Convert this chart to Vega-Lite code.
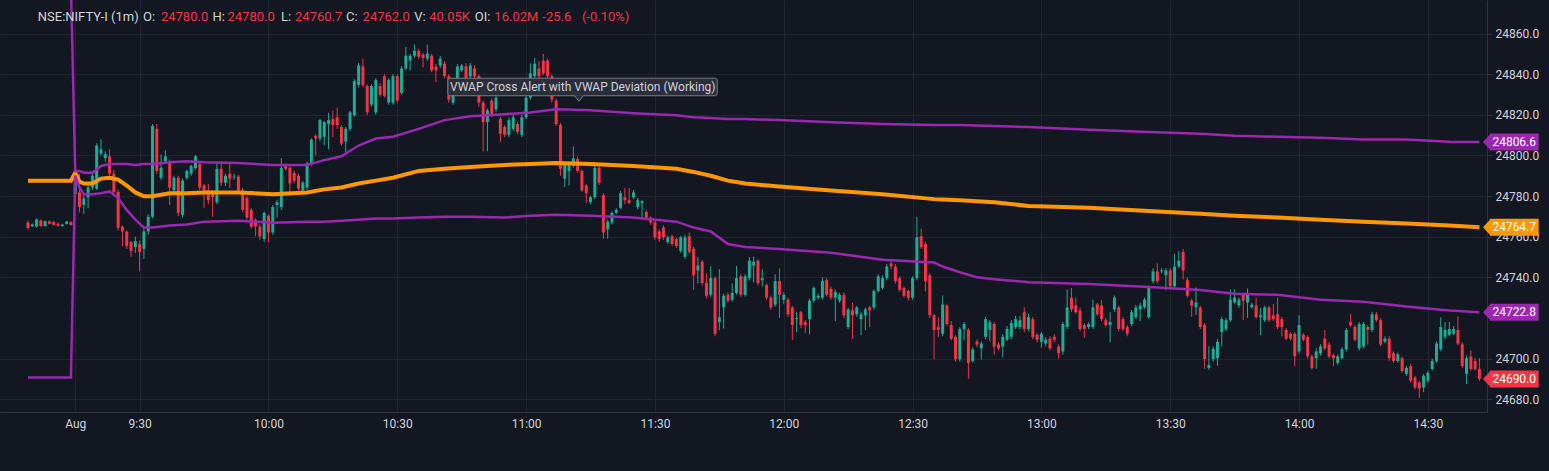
{
"$schema":"https://vega.github.io/schema/vega-lite/v6.json",
"width":1487,"height":412,
"autosize":{"type":"none"},
"padding":{"left":0,"top":0,"right":62,"bottom":59},
"background":"#131722",
"config":{"view":{"stroke":null},"font":"Roboto","text":{"font":"Roboto"},
"axis":{"labelFont":"Roboto","labelFontSize":12,"labelColor":"#d1d4dc","gridColor":"#1f2430","domainColor":"#2e323d","tickColor":"#2e323d","title":null}},
"resolve":{"scale":{"color":"independent"}},
"datasets":{
"cd":[
{"m":-11,"o":24767.0,"h":24768,"l":24763.5,"c":24764.3},
{"m":-10,"o":24765.2,"h":24766.5,"l":24764.8,"c":24766.0},
{"m":-9,"o":24765.0,"h":24769,"l":24764.5,"c":24768.5},
{"m":-8,"o":24768.0,"h":24768.5,"l":24765,"c":24765.2},
{"m":-7,"o":24765.2,"h":24768,"l":24765,"c":24767.6},
{"m":-6,"o":24767.5,"h":24768,"l":24766,"c":24766.4},
{"m":-5,"o":24767.3,"h":24767.6,"l":24765.5,"c":24765.8},
{"m":-4,"o":24766.3,"h":24767,"l":24764.8,"c":24765.5},
{"m":-3,"o":24765.2,"h":24766.4,"l":24765,"c":24766.0},
{"m":-2,"o":24766.3,"h":24767.8,"l":24766,"c":24767.5},
{"m":-1,"o":24767.2,"h":24767.6,"l":24765.5,"c":24765.8},
{"m":0,"o":24781,"h":24793,"l":24779,"c":24790},
{"m":1,"o":24781.8,"h":24791,"l":24772,"c":24774.6},
{"m":2,"o":24775.6,"h":24780,"l":24771.3,"c":24778.9},
{"m":3,"o":24779.4,"h":24785.5,"l":24774,"c":24784.2},
{"m":4,"o":24784.2,"h":24791,"l":24783,"c":24790},
{"m":5,"o":24783.7,"h":24806,"l":24783,"c":24804.9},
{"m":6,"o":24801,"h":24808,"l":24800,"c":24803},
{"m":7,"o":24798.7,"h":24802,"l":24797,"c":24800.6},
{"m":8,"o":24799.6,"h":24803,"l":24790,"c":24791},
{"m":9,"o":24791,"h":24793,"l":24781.5,"c":24782},
{"m":10,"o":24782,"h":24783,"l":24763,"c":24764.5},
{"m":11,"o":24765,"h":24765.5,"l":24755.4,"c":24762.6},
{"m":12,"o":24762.6,"h":24763,"l":24754,"c":24755.4},
{"m":13,"o":24757.3,"h":24758,"l":24750.1,"c":24753},
{"m":14,"o":24754.9,"h":24760,"l":24752,"c":24757.8},
{"m":15,"o":24756.4,"h":24758,"l":24742.9,"c":24752.5},
{"m":16,"o":24754,"h":24764,"l":24749,"c":24762.6},
{"m":17,"o":24762.6,"h":24771,"l":24761,"c":24769.8},
{"m":18,"o":24769.8,"h":24815.5,"l":24769,"c":24814.5},
{"m":19,"o":24813.1,"h":24815.5,"l":24791,"c":24792.4},
{"m":20,"o":24789,"h":24800.5,"l":24788,"c":24793.9},
{"m":21,"o":24797.2,"h":24802.5,"l":24796,"c":24799.6},
{"m":22,"o":24796.2,"h":24798,"l":24775.6,"c":24784.2},
{"m":23,"o":24782.8,"h":24790,"l":24781,"c":24789},
{"m":24,"o":24789,"h":24790,"l":24770,"c":24771.7},
{"m":25,"o":24770.8,"h":24788.5,"l":24769.5,"c":24787.6},
{"m":26,"o":24789,"h":24793,"l":24788,"c":24792.4},
{"m":27,"o":24791,"h":24795.5,"l":24790,"c":24794.8},
{"m":28,"o":24793.8,"h":24800.1,"l":24793,"c":24799.6},
{"m":29,"o":24795.8,"h":24797,"l":24783,"c":24784.2},
{"m":30,"o":24785.2,"h":24786,"l":24774.2,"c":24782.8},
{"m":31,"o":24782.8,"h":24786,"l":24776,"c":24778},
{"m":32,"o":24781.8,"h":24783,"l":24769.8,"c":24779.4},
{"m":33,"o":24777,"h":24796.7,"l":24776,"c":24793.4},
{"m":34,"o":24793.4,"h":24797.2,"l":24785,"c":24786.6},
{"m":35,"o":24786.6,"h":24791,"l":24785,"c":24790},
{"m":36,"o":24791,"h":24796,"l":24784,"c":24788.6},
{"m":37,"o":24789.2,"h":24791,"l":24788,"c":24789.6},
{"m":38,"o":24789.6,"h":24790.5,"l":24782,"c":24782.8},
{"m":39,"o":24782.8,"h":24784,"l":24772,"c":24773.2},
{"m":40,"o":24779,"h":24780,"l":24768.5,"c":24769.4},
{"m":41,"o":24773.2,"h":24774,"l":24764,"c":24765},
{"m":42,"o":24768.4,"h":24769,"l":24760.2,"c":24765},
{"m":43,"o":24765,"h":24766,"l":24758.5,"c":24760.2},
{"m":44,"o":24758.8,"h":24772.5,"l":24757.5,"c":24771.7},
{"m":45,"o":24770.3,"h":24771,"l":24757.3,"c":24762.1},
{"m":46,"o":24762.1,"h":24775.5,"l":24761,"c":24774.6},
{"m":47,"o":24775.6,"h":24778,"l":24769.5,"c":24777},
{"m":48,"o":24774.6,"h":24798.6,"l":24773,"c":24793.9},
{"m":49,"o":24794.8,"h":24796,"l":24792.5,"c":24793.4},
{"m":50,"o":24793.9,"h":24795,"l":24780.9,"c":24786.2},
{"m":51,"o":24791.4,"h":24792.5,"l":24786.5,"c":24787.6},
{"m":52,"o":24790,"h":24791,"l":24782.5,"c":24783.7},
{"m":53,"o":24782.8,"h":24787.5,"l":24781.5,"c":24786.6},
{"m":54,"o":24784.2,"h":24797,"l":24783,"c":24796.2},
{"m":55,"o":24796.2,"h":24808.5,"l":24795,"c":24807.8},
{"m":56,"o":24809.7,"h":24810.5,"l":24800,"c":24808.3},
{"m":57,"o":24808.3,"h":24818,"l":24807,"c":24817.4},
{"m":58,"o":24809.2,"h":24817,"l":24805,"c":24816.4},
{"m":59,"o":24815.5,"h":24821,"l":24803,"c":24817.4},
{"m":60,"o":24817.9,"h":24822,"l":24809,"c":24815},
{"m":61,"o":24818.8,"h":24823.5,"l":24813,"c":24815},
{"m":62,"o":24814,"h":24815,"l":24805,"c":24805.9},
{"m":63,"o":24806.8,"h":24814,"l":24800.6,"c":24813.1},
{"m":64,"o":24813.1,"h":24822,"l":24812,"c":24821.2},
{"m":65,"o":24819.8,"h":24837.5,"l":24819,"c":24836.6},
{"m":66,"o":24834.7,"h":24845.5,"l":24833.5,"c":24844.3},
{"m":67,"o":24843.8,"h":24847.7,"l":24833.5,"c":24834.7},
{"m":68,"o":24834.2,"h":24835,"l":24819.8,"c":24821.2},
{"m":69,"o":24825.1,"h":24835,"l":24824,"c":24834.2},
{"m":70,"o":24821.2,"h":24838,"l":24820,"c":24837.1},
{"m":71,"o":24834.2,"h":24835.5,"l":24829,"c":24829.9},
{"m":72,"o":24839,"h":24840,"l":24828.5,"c":24829.4},
{"m":73,"o":24826,"h":24838,"l":24825,"c":24837.1},
{"m":74,"o":24826,"h":24840,"l":24825,"c":24839},
{"m":75,"o":24839,"h":24840,"l":24826,"c":24827},
{"m":76,"o":24830.8,"h":24844,"l":24830,"c":24842.8},
{"m":77,"o":24842.8,"h":24853.4,"l":24842,"c":24849.1},
{"m":78,"o":24846.7,"h":24850,"l":24841.8,"c":24849.1},
{"m":79,"o":24849.1,"h":24854.6,"l":24848,"c":24851.5},
{"m":80,"o":24851.5,"h":24852.5,"l":24847.5,"c":24848.6},
{"m":81,"o":24849.6,"h":24850.5,"l":24843.3,"c":24848.1},
{"m":82,"o":24847.7,"h":24854.6,"l":24846.5,"c":24850.1},
{"m":83,"o":24849.1,"h":24850,"l":24841,"c":24841.9},
{"m":84,"o":24843.8,"h":24845,"l":24836.1,"c":24841.9},
{"m":85,"o":24844.3,"h":24849,"l":24843,"c":24847.7},
{"m":86,"o":24845.2,"h":24846.5,"l":24838,"c":24839},
{"m":87,"o":24839,"h":24840,"l":24826,"c":24827.5},
{"m":88,"o":24826,"h":24838,"l":24825,"c":24836.6},
{"m":89,"o":24836.6,"h":24845,"l":24835.5,"c":24843.8},
{"m":90,"o":24841.9,"h":24845,"l":24841,"c":24844.3},
{"m":91,"o":24843.8,"h":24845.5,"l":24836,"c":24837.1},
{"m":92,"o":24839,"h":24845.5,"l":24838,"c":24844.3},
{"m":93,"o":24842.8,"h":24844.5,"l":24835,"c":24839},
{"m":94,"o":24839,"h":24840,"l":24824,"c":24826},
{"m":95,"o":24826,"h":24827,"l":24802,"c":24816.4},
{"m":96,"o":24816.4,"h":24823,"l":24802,"c":24822.2},
{"m":97,"o":24827,"h":24828,"l":24819,"c":24820.3},
{"m":98,"o":24822.7,"h":24830,"l":24821.5,"c":24828.4},
{"m":99,"o":24817.9,"h":24819,"l":24806.8,"c":24810.7},
{"m":100,"o":24814,"h":24815,"l":24809,"c":24810.2},
{"m":101,"o":24810.2,"h":24818.5,"l":24809,"c":24817.4},
{"m":102,"o":24813.1,"h":24820,"l":24812,"c":24818.8},
{"m":103,"o":24815.5,"h":24816.5,"l":24810.5,"c":24811.6},
{"m":104,"o":24810.2,"h":24820,"l":24809,"c":24818.8},
{"m":105,"o":24818.8,"h":24829.5,"l":24818,"c":24828.4},
{"m":106,"o":24828.4,"h":24845.3,"l":24827.5,"c":24840.4},
{"m":107,"o":24839,"h":24848,"l":24838,"c":24845.2},
{"m":108,"o":24842.8,"h":24846.5,"l":24838,"c":24839},
{"m":109,"o":24846.7,"h":24850,"l":24839.5,"c":24840.4},
{"m":110,"o":24846.7,"h":24847.5,"l":24838,"c":24839},
{"m":111,"o":24839,"h":24840,"l":24826,"c":24827.5},
{"m":112,"o":24827,"h":24828,"l":24814.5,"c":24815.5},
{"m":113,"o":24815,"h":24816,"l":24790,"c":24793.4},
{"m":114,"o":24788.6,"h":24797,"l":24784.5,"c":24796.2},
{"m":115,"o":24792.4,"h":24797,"l":24785.2,"c":24795.8},
{"m":116,"o":24794.8,"h":24804.4,"l":24794,"c":24798.6},
{"m":117,"o":24798.2,"h":24799.5,"l":24791.5,"c":24792.4},
{"m":118,"o":24792.4,"h":24793,"l":24782,"c":24782.8},
{"m":119,"o":24785.2,"h":24786,"l":24776.5,"c":24781.4},
{"m":120,"o":24777,"h":24780,"l":24776,"c":24779.4},
{"m":121,"o":24779.4,"h":24795,"l":24778.5,"c":24793.9},
{"m":122,"o":24793.9,"h":24795,"l":24785.5,"c":24786.6},
{"m":123,"o":24780.4,"h":24781.5,"l":24759,"c":24762.1},
{"m":124,"o":24763.6,"h":24768.5,"l":24759,"c":24767.4},
{"m":125,"o":24767,"h":24772.5,"l":24766,"c":24771.7},
{"m":126,"o":24771.7,"h":24774,"l":24771,"c":24773.2},
{"m":127,"o":24774.2,"h":24782.5,"l":24773.5,"c":24781.4},
{"m":128,"o":24779.4,"h":24784,"l":24776,"c":24778},
{"m":129,"o":24778,"h":24784,"l":24776,"c":24776.6},
{"m":130,"o":24779.4,"h":24783,"l":24778.5,"c":24781.8},
{"m":131,"o":24774.6,"h":24779,"l":24773.5,"c":24778},
{"m":132,"o":24776.6,"h":24778,"l":24768.3,"c":24777.5},
{"m":133,"o":24772.2,"h":24773,"l":24768.5,"c":24769.4},
{"m":134,"o":24769.4,"h":24770,"l":24766,"c":24767},
{"m":135,"o":24767,"h":24768,"l":24758.5,"c":24759.7},
{"m":136,"o":24762.6,"h":24763.5,"l":24757.5,"c":24758.8},
{"m":137,"o":24764.6,"h":24765.5,"l":24758.5,"c":24759.7},
{"m":138,"o":24757.3,"h":24760.5,"l":24756.5,"c":24759.7},
{"m":139,"o":24760.2,"h":24761,"l":24755.5,"c":24756.4},
{"m":140,"o":24758.8,"h":24759.5,"l":24754.5,"c":24755.4},
{"m":141,"o":24753,"h":24760.5,"l":24752,"c":24759.7},
{"m":142,"o":24750.1,"h":24761,"l":24749,"c":24759.7},
{"m":143,"o":24760.2,"h":24762,"l":24751.5,"c":24752.5},
{"m":144,"o":24754,"h":24755,"l":24733.8,"c":24741},
{"m":145,"o":24743.4,"h":24750,"l":24737,"c":24745.8},
{"m":146,"o":24747.7,"h":24748.5,"l":24736,"c":24737.2},
{"m":147,"o":24737.2,"h":24742,"l":24729.5,"c":24730.9},
{"m":148,"o":24731.4,"h":24745.5,"l":24730.5,"c":24739.6},
{"m":149,"o":24739.6,"h":24740.5,"l":24711,"c":24712.2},
{"m":150,"o":24718,"h":24744,"l":24714,"c":24720.4},
{"m":151,"o":24725.2,"h":24732,"l":24714.8,"c":24730.9},
{"m":152,"o":24731.4,"h":24732.5,"l":24727.5,"c":24728.5},
{"m":153,"o":24729,"h":24737,"l":24728,"c":24732.3},
{"m":154,"o":24732.3,"h":24745.5,"l":24731.5,"c":24739.6},
{"m":155,"o":24740.5,"h":24741.5,"l":24730.5,"c":24731.4},
{"m":156,"o":24731.4,"h":24741.5,"l":24730.5,"c":24740.5},
{"m":157,"o":24739.6,"h":24750,"l":24738.5,"c":24748.2},
{"m":158,"o":24745.8,"h":24750.1,"l":24737.5,"c":24747.7},
{"m":159,"o":24748.2,"h":24749,"l":24736,"c":24737.2},
{"m":160,"o":24738.6,"h":24744,"l":24735.5,"c":24739.6},
{"m":161,"o":24736.2,"h":24737,"l":24729,"c":24730},
{"m":162,"o":24730,"h":24731,"l":24724,"c":24725.2},
{"m":163,"o":24726.6,"h":24741.4,"l":24725.5,"c":24738.1},
{"m":164,"o":24738.1,"h":24744.4,"l":24720,"c":24731.4},
{"m":165,"o":24729,"h":24732.5,"l":24727,"c":24731.4},
{"m":166,"o":24729,"h":24730,"l":24720.5,"c":24721.8},
{"m":167,"o":24725.2,"h":24726,"l":24709.2,"c":24716.5},
{"m":168,"o":24719.4,"h":24723,"l":24713,"c":24719.9},
{"m":169,"o":24722.8,"h":24723.5,"l":24715,"c":24716.5},
{"m":170,"o":24718,"h":24719,"l":24712.5,"c":24716.5},
{"m":171,"o":24719.4,"h":24729.5,"l":24712,"c":24728.5},
{"m":172,"o":24728.5,"h":24735.5,"l":24727.5,"c":24734.8},
{"m":173,"o":24730,"h":24732,"l":24729,"c":24730.9},
{"m":174,"o":24730,"h":24740,"l":24729,"c":24738.1},
{"m":175,"o":24738.6,"h":24739.5,"l":24730.5,"c":24731.4},
{"m":176,"o":24734.3,"h":24735.5,"l":24729,"c":24730},
{"m":177,"o":24730,"h":24734,"l":24718.5,"c":24732.8},
{"m":178,"o":24728.5,"h":24732.5,"l":24727.5,"c":24731.4},
{"m":179,"o":24731.4,"h":24732.5,"l":24720,"c":24721.3},
{"m":180,"o":24715.5,"h":24725,"l":24714.5,"c":24724.2},
{"m":181,"o":24723.7,"h":24727.5,"l":24709.7,"c":24721.3},
{"m":182,"o":24721.8,"h":24726,"l":24720.5,"c":24725.2},
{"m":183,"o":24719.4,"h":24723,"l":24711.5,"c":24721.8},
{"m":184,"o":24721.3,"h":24725,"l":24714,"c":24724.2},
{"m":185,"o":24725.2,"h":24726,"l":24715.5,"c":24723.7},
{"m":186,"o":24725.2,"h":24734,"l":24724,"c":24733.3},
{"m":187,"o":24733.3,"h":24741.5,"l":24732.5,"c":24740.5},
{"m":188,"o":24734.8,"h":24741,"l":24734,"c":24739.6},
{"m":189,"o":24739.6,"h":24746.5,"l":24738.5,"c":24745.3},
{"m":190,"o":24746.8,"h":24748.5,"l":24744,"c":24745.3},
{"m":191,"o":24745.3,"h":24746.5,"l":24737,"c":24738.1},
{"m":192,"o":24739.6,"h":24740.5,"l":24733,"c":24733.8},
{"m":193,"o":24734.8,"h":24735.5,"l":24730,"c":24730.9},
{"m":194,"o":24733.3,"h":24734,"l":24728.5,"c":24730},
{"m":195,"o":24730,"h":24740.5,"l":24729,"c":24739.6},
{"m":196,"o":24739.6,"h":24769.8,"l":24738.5,"c":24759.7},
{"m":197,"o":24760.2,"h":24764,"l":24754,"c":24754.9},
{"m":198,"o":24756.4,"h":24757.5,"l":24733,"c":24738.1},
{"m":199,"o":24741,"h":24742,"l":24720,"c":24721.3},
{"m":200,"o":24721.3,"h":24722,"l":24699.7,"c":24714.1},
{"m":201,"o":24715.5,"h":24720.3,"l":24710.5,"c":24714.1},
{"m":202,"o":24712.2,"h":24731,"l":24711,"c":24726.6},
{"m":203,"o":24726.1,"h":24727,"l":24716,"c":24717},
{"m":204,"o":24716.5,"h":24718.5,"l":24709,"c":24709.8},
{"m":205,"o":24710.7,"h":24711.5,"l":24698.5,"c":24699.7},
{"m":206,"o":24699.7,"h":24715.5,"l":24698.5,"c":24714.6},
{"m":207,"o":24714.6,"h":24718,"l":24709,"c":24717},
{"m":208,"o":24714.1,"h":24715,"l":24690.1,"c":24697.8},
{"m":209,"o":24698.8,"h":24705.5,"l":24698,"c":24704.5},
{"m":210,"o":24708.4,"h":24709.5,"l":24705.5,"c":24706.9},
{"m":211,"o":24705,"h":24708.5,"l":24699.5,"c":24707.4},
{"m":212,"o":24710.7,"h":24720.5,"l":24709.5,"c":24719.4},
{"m":213,"o":24714.1,"h":24719,"l":24708.5,"c":24717.9},
{"m":214,"o":24717,"h":24718,"l":24702,"c":24705.9},
{"m":215,"o":24706.9,"h":24708,"l":24704,"c":24705},
{"m":216,"o":24705.9,"h":24712,"l":24700.6,"c":24710.7},
{"m":217,"o":24709.3,"h":24716,"l":24708.5,"c":24714.6},
{"m":218,"o":24710.7,"h":24719,"l":24709.5,"c":24717.5},
{"m":219,"o":24715.5,"h":24721,"l":24714.5,"c":24719.4},
{"m":220,"o":24715.5,"h":24721,"l":24714.5,"c":24718.9},
{"m":221,"o":24722.8,"h":24725.2,"l":24713,"c":24714.6},
{"m":222,"o":24714.6,"h":24722,"l":24713.5,"c":24720.4},
{"m":223,"o":24719.4,"h":24720.5,"l":24709.5,"c":24710.7},
{"m":224,"o":24711.7,"h":24712.5,"l":24708,"c":24709.3},
{"m":225,"o":24708.3,"h":24713,"l":24705.5,"c":24712.2},
{"m":226,"o":24707.4,"h":24710.5,"l":24706,"c":24709.3},
{"m":227,"o":24709.8,"h":24711,"l":24704,"c":24705},
{"m":228,"o":24710.7,"h":24712,"l":24708,"c":24709.3},
{"m":229,"o":24705.9,"h":24707,"l":24700.1,"c":24702.6},
{"m":230,"o":24703.5,"h":24718,"l":24702,"c":24717},
{"m":231,"o":24715.5,"h":24734,"l":24714.5,"c":24725.2},
{"m":232,"o":24730,"h":24734.8,"l":24723,"c":24724.2},
{"m":233,"o":24726.1,"h":24730,"l":24722,"c":24722.8},
{"m":234,"o":24723.7,"h":24725,"l":24713.5,"c":24714.6},
{"m":235,"o":24716.5,"h":24717.5,"l":24710.2,"c":24714.6},
{"m":236,"o":24715.5,"h":24718,"l":24714.5,"c":24717},
{"m":237,"o":24715.5,"h":24729,"l":24714.5,"c":24725.2},
{"m":238,"o":24726.6,"h":24727.5,"l":24721,"c":24721.8},
{"m":239,"o":24726.1,"h":24729,"l":24718.5,"c":24719.4},
{"m":240,"o":24718.9,"h":24720,"l":24715.5,"c":24716.5},
{"m":241,"o":24716.5,"h":24722.8,"l":24708,"c":24718},
{"m":242,"o":24724.2,"h":24731,"l":24723,"c":24730},
{"m":243,"o":24725.2,"h":24726,"l":24713.5,"c":24714.6},
{"m":244,"o":24719.4,"h":24720.5,"l":24713.5,"c":24714.6},
{"m":245,"o":24715.5,"h":24716.5,"l":24711,"c":24712.2},
{"m":246,"o":24717,"h":24724,"l":24716,"c":24722.8},
{"m":247,"o":24720.4,"h":24726.5,"l":24719.5,"c":24725.2},
{"m":248,"o":24724.2,"h":24727.5,"l":24718.5,"c":24726.1},
{"m":249,"o":24725.2,"h":24730,"l":24724.5,"c":24729},
{"m":250,"o":24720.4,"h":24736,"l":24719.5,"c":24734.8},
{"m":251,"o":24738.1,"h":24744.5,"l":24737,"c":24742.9},
{"m":252,"o":24742.9,"h":24746.8,"l":24737,"c":24738.1},
{"m":253,"o":24742.9,"h":24744.5,"l":24742,"c":24743.4},
{"m":254,"o":24741,"h":24744.5,"l":24733.7,"c":24743.4},
{"m":255,"o":24743.4,"h":24744.5,"l":24734.5,"c":24735.7},
{"m":256,"o":24735.7,"h":24751.6,"l":24734.5,"c":24745.3},
{"m":257,"o":24745.3,"h":24753,"l":24744.5,"c":24748.2},
{"m":258,"o":24752.5,"h":24754,"l":24739,"c":24743.4},
{"m":259,"o":24738.6,"h":24740,"l":24730,"c":24730.9},
{"m":260,"o":24728.5,"h":24729.5,"l":24720.5,"c":24726.1},
{"m":261,"o":24725.2,"h":24735,"l":24721.5,"c":24727.6},
{"m":262,"o":24725.2,"h":24726,"l":24714.5,"c":24715.5},
{"m":263,"o":24716.5,"h":24717.5,"l":24695,"c":24699.7},
{"m":264,"o":24695.4,"h":24706,"l":24694.5,"c":24696.8},
{"m":265,"o":24699.7,"h":24706,"l":24698.5,"c":24704.9},
{"m":266,"o":24700.2,"h":24709.5,"l":24696.5,"c":24708.3},
{"m":267,"o":24713.1,"h":24720.5,"l":24706,"c":24719.4},
{"m":268,"o":24714.6,"h":24720,"l":24713.5,"c":24718.9},
{"m":269,"o":24718.9,"h":24733.8,"l":24718,"c":24729},
{"m":270,"o":24727.6,"h":24734,"l":24727,"c":24730},
{"m":271,"o":24726.1,"h":24730,"l":24725,"c":24729},
{"m":272,"o":24731.4,"h":24732.5,"l":24718.9,"c":24728.5},
{"m":273,"o":24727.6,"h":24734.5,"l":24720,"c":24732.3},
{"m":274,"o":24725.2,"h":24727.5,"l":24724.5,"c":24726.6},
{"m":275,"o":24726.1,"h":24730,"l":24719.5,"c":24720.4},
{"m":276,"o":24720.4,"h":24725,"l":24711.5,"c":24721.3},
{"m":277,"o":24718.9,"h":24726,"l":24718,"c":24725.2},
{"m":278,"o":24725.2,"h":24726,"l":24718,"c":24718.9},
{"m":279,"o":24721.3,"h":24727,"l":24718.5,"c":24719.4},
{"m":280,"o":24721.8,"h":24730,"l":24714.5,"c":24715.5},
{"m":281,"o":24719.4,"h":24720.5,"l":24711,"c":24715.5},
{"m":282,"o":24714.1,"h":24715,"l":24709,"c":24709.8},
{"m":283,"o":24712.2,"h":24713,"l":24709,"c":24709.8},
{"m":284,"o":24712.2,"h":24713,"l":24696.3,"c":24701.1},
{"m":285,"o":24703.5,"h":24721.3,"l":24702.5,"c":24716.5},
{"m":286,"o":24711.7,"h":24712.5,"l":24708.5,"c":24709.3},
{"m":287,"o":24710.7,"h":24711.5,"l":24700,"c":24701.1},
{"m":288,"o":24701.1,"h":24702,"l":24694.5,"c":24695.4},
{"m":289,"o":24700.2,"h":24705,"l":24695,"c":24703.5},
{"m":290,"o":24702.6,"h":24707,"l":24701.5,"c":24705.9},
{"m":291,"o":24709.8,"h":24714,"l":24704,"c":24705},
{"m":292,"o":24706.9,"h":24708,"l":24700,"c":24701.1},
{"m":293,"o":24701.6,"h":24702.5,"l":24696.3,"c":24700.2},
{"m":294,"o":24697.8,"h":24702,"l":24697,"c":24701.1},
{"m":295,"o":24700.2,"h":24705.5,"l":24699.5,"c":24704.5},
{"m":296,"o":24704.5,"h":24715,"l":24703.5,"c":24714.1},
{"m":297,"o":24718,"h":24721.8,"l":24715.5,"c":24716.5},
{"m":298,"o":24715.5,"h":24716.5,"l":24708.5,"c":24709.3},
{"m":299,"o":24705,"h":24718,"l":24704,"c":24717},
{"m":300,"o":24706,"h":24718,"l":24705,"c":24717},
{"m":301,"o":24715.5,"h":24716.5,"l":24706.9,"c":24714.1},
{"m":302,"o":24714.1,"h":24723,"l":24713,"c":24721.8},
{"m":303,"o":24721.8,"h":24723,"l":24718,"c":24718.9},
{"m":304,"o":24718.9,"h":24720,"l":24706,"c":24706.9},
{"m":305,"o":24708.3,"h":24711,"l":24707.5,"c":24709.8},
{"m":306,"o":24709.8,"h":24711,"l":24699,"c":24700.2},
{"m":307,"o":24702.6,"h":24703.5,"l":24697.8,"c":24698.8},
{"m":308,"o":24698.8,"h":24703,"l":24698,"c":24702.1},
{"m":309,"o":24700.2,"h":24701,"l":24693,"c":24693.9},
{"m":310,"o":24692.5,"h":24696.5,"l":24691.5,"c":24695.4},
{"m":311,"o":24696.3,"h":24697.5,"l":24688,"c":24689.1},
{"m":312,"o":24690.6,"h":24691.5,"l":24684.8,"c":24685.8},
{"m":313,"o":24688.2,"h":24689,"l":24680.5,"c":24685.3},
{"m":314,"o":24685.8,"h":24692.5,"l":24683.5,"c":24691.5},
{"m":315,"o":24689.1,"h":24694,"l":24688,"c":24693},
{"m":316,"o":24694.9,"h":24700,"l":24694,"c":24698.8},
{"m":317,"o":24698.8,"h":24708.5,"l":24698,"c":24707.4},
{"m":318,"o":24704.5,"h":24720.3,"l":24703.5,"c":24715.5},
{"m":319,"o":24710.7,"h":24718,"l":24709.5,"c":24714.1},
{"m":320,"o":24711.7,"h":24718,"l":24711,"c":24714.6},
{"m":321,"o":24712.2,"h":24716,"l":24711.5,"c":24714.6},
{"m":322,"o":24714.1,"h":24720.8,"l":24706.5,"c":24707.4},
{"m":323,"o":24707,"h":24708,"l":24695.5,"c":24696.3},
{"m":324,"o":24692.5,"h":24701.5,"l":24687.5,"c":24700.2},
{"m":325,"o":24701.1,"h":24704,"l":24694,"c":24694.9},
{"m":326,"o":24698.8,"h":24700.2,"l":24694,"c":24694.9},
{"m":327,"o":24694.9,"h":24700.2,"l":24689,"c":24690}
],
"bd":[
{"m":-11,"vw":24787.6,"up":24884.0,"lo":24690.7},
{"m":-1,"vw":24787.6,"up":24884.0,"lo":24690.7},
{"m":0,"vw":24791.5,"up":24792.4,"lo":24790.0},
{"m":1,"vw":24787.1,"up":24792.4,"lo":24784.2},
{"m":2,"vw":24786.2,"up":24791.5,"lo":24780.9},
{"m":4,"vw":24786.2,"up":24791.5,"lo":24780.9},
{"m":6,"vw":24788.6,"up":24794.8,"lo":24781.4},
{"m":8,"vw":24789.0,"up":24795.8,"lo":24782.3},
{"m":10,"vw":24788.1,"up":24795.8,"lo":24779.0},
{"m":12,"vw":24785.2,"up":24795.8,"lo":24773.2},
{"m":14,"vw":24781.8,"up":24795.3,"lo":24768.4},
{"m":16,"vw":24779.9,"up":24795.8,"lo":24764.5},
{"m":18,"vw":24779.9,"up":24795.8,"lo":24764.5},
{"m":22,"vw":24781.4,"up":24796.7,"lo":24765.5},
{"m":26,"vw":24781.4,"up":24797.2,"lo":24766.0},
{"m":30,"vw":24781.8,"up":24796.7,"lo":24767.4},
{"m":38,"vw":24781.8,"up":24796.3,"lo":24767.9},
{"m":46,"vw":24780.9,"up":24795.3,"lo":24766.9},
{"m":54,"vw":24781.8,"up":24795.3,"lo":24767.4},
{"m":58,"vw":24783.3,"up":24797.7,"lo":24767.4},
{"m":62,"vw":24784.2,"up":24799.6,"lo":24767.9},
{"m":66,"vw":24786.2,"up":24804.9,"lo":24768.4},
{"m":70,"vw":24787.6,"up":24808.3,"lo":24768.9},
{"m":74,"vw":24789.0,"up":24809.2,"lo":24768.9},
{"m":80,"vw":24792.4,"up":24813.1,"lo":24769.4},
{"m":86,"vw":24793.4,"up":24817.4,"lo":24769.8},
{"m":92,"vw":24794.3,"up":24819.3,"lo":24769.8},
{"m":100,"vw":24795.3,"up":24820.3,"lo":24769.4},
{"m":106,"vw":24795.8,"up":24821.2,"lo":24770.3},
{"m":112,"vw":24796.3,"up":24822.7,"lo":24770.8},
{"m":120,"vw":24795.8,"up":24822.2,"lo":24770.3},
{"m":130,"vw":24794.8,"up":24820.8,"lo":24769.4},
{"m":140,"vw":24793.4,"up":24819.8,"lo":24767.4},
{"m":144,"vw":24791.9,"up":24818.8,"lo":24764.5},
{"m":148,"vw":24790.0,"up":24818.4,"lo":24762.6},
{"m":152,"vw":24787.6,"up":24817.9,"lo":24756.4},
{"m":156,"vw":24786.2,"up":24817.9,"lo":24754.9},
{"m":164,"vw":24784.7,"up":24817.4,"lo":24754.0},
{"m":176,"vw":24782.8,"up":24816.4,"lo":24752.1},
{"m":188,"vw":24780.9,"up":24815.5,"lo":24748.7},
{"m":200,"vw":24778.5,"up":24815.0,"lo":24747.3},
{"m":202,"vw":24778.3,"up":24815.0,"lo":24745.3},
{"m":206,"vw":24778.0,"up":24815.0,"lo":24742.5},
{"m":210,"vw":24777.5,"up":24814.7,"lo":24740.0},
{"m":214,"vw":24777.0,"up":24814.5,"lo":24739.1},
{"m":222,"vw":24775.1,"up":24814.0,"lo":24737.6},
{"m":236,"vw":24774.2,"up":24812.6,"lo":24736.7},
{"m":250,"vw":24772.7,"up":24811.6,"lo":24735.2},
{"m":262,"vw":24771.3,"up":24810.7,"lo":24733.8},
{"m":270,"vw":24770.3,"up":24809.7,"lo":24731.9},
{"m":280,"vw":24769.4,"up":24809.2,"lo":24731.4},
{"m":290,"vw":24768.4,"up":24808.7,"lo":24729.0},
{"m":300,"vw":24767.4,"up":24807.8,"lo":24728.0},
{"m":310,"vw":24766.5,"up":24807.8,"lo":24725.6},
{"m":320,"vw":24765.5,"up":24806.8,"lo":24723.7},
{"m":327,"vw":24764.7,"up":24806.6,"lo":24722.8}
],
"hd":[
{"m":-8.72,"txt":"NSE:NIFTY-I (1m)","k":"lab"},
{"m":15.8,"txt":"O:","k":"lab"},
{"m":19.96,"txt":"24780.0","k":"val"},
{"m":31.99,"txt":"H:","k":"lab"},
{"m":35.46,"txt":"24780.0","k":"val"},
{"m":47.95,"txt":"L:","k":"lab"},
{"m":51.19,"txt":"24760.7","k":"val"},
{"m":63.08,"txt":"C:","k":"lab"},
{"m":66.92,"txt":"24762.0","k":"val"},
{"m":78.95,"txt":"V:","k":"lab"},
{"m":82.42,"txt":"40.05K","k":"val"},
{"m":93.06,"txt":"OI:","k":"lab"},
{"m":97.61,"txt":"16.02M","k":"val"},
{"m":108.78,"txt":"-25.6","k":"val"},
{"m":117.99,"txt":"(-0.10%)","k":"val"}
],
"bg":[
{"s":"up","v":24806.6},
{"s":"vw","v":24764.7},
{"s":"lo","v":24722.8},
{"s":"last","v":24690.0}
]
},
"layer":[
{"data":{"name":"cd"},"mark":{"type":"rule","strokeWidth":1},
"encoding":{
"x":{"field":"m","type":"quantitative","scale":{"domain":[-16.35,327.6],"nice":false,"zero":false},
"axis":{"orient":"bottom","values":[0,15,45,75,105,135,165,195,225,255,285,315],"labelExpr":"datum.value == 0 ? 'Aug' : floor((555 + datum.value) / 60) + ':' + (((555 + datum.value) % 60) < 10 ? '0' : '') + ((555 + datum.value) % 60)","grid":true,"ticks":false,"tickSize":0,"labelPadding":6,"labelFlush":false,"labelOverlap":false,"title":null}},
"y":{"field":"l","type":"quantitative","scale":{"domain":[24676.16,24874.07],"nice":false,"zero":false},
"axis":{"orient":"right","values":[24680,24700,24740,24760,24780,24800,24820,24840,24860],"format":".1f","grid":true,"ticks":true,"tickSize":5,"labelPadding":3,"labelFlush":false,"labelOverlap":false,"title":null}},
"y2":{"field":"h"},
"color":{"condition":{"test":"datum.c >= datum.o","value":"#22ab94"},"value":"#f23645"}}},
{"data":{"name":"cd"},"mark":{"type":"bar","size":3},
"encoding":{
"x":{"field":"m","type":"quantitative","scale":{"domain":[-16.35,327.6],"nice":false,"zero":false},"axis":{"title":null}},
"y":{"field":"o","type":"quantitative","scale":{"domain":[24676.16,24874.07],"nice":false,"zero":false},"axis":{"title":null}},
"y2":{"field":"c"},
"color":{"condition":{"test":"datum.c >= datum.o","value":"#22ab94"},"value":"#f23645"}}},
{"data":{"name":"bd"},"mark":{"type":"line","color":"#ff9800","strokeWidth":4,"clip":true},
"encoding":{"x":{"field":"m","type":"quantitative","scale":{"domain":[-16.35,327.6],"nice":false,"zero":false},"axis":{"title":null}},"y":{"field":"vw","type":"quantitative","scale":{"domain":[24676.16,24874.07],"nice":false,"zero":false},"axis":{"title":null}}}},
{"data":{"name":"bd"},"mark":{"type":"line","color":"#9c27b0","strokeWidth":2.5,"clip":true},
"encoding":{"x":{"field":"m","type":"quantitative","scale":{"domain":[-16.35,327.6],"nice":false,"zero":false},"axis":{"title":null}},"y":{"field":"up","type":"quantitative","scale":{"domain":[24676.16,24874.07],"nice":false,"zero":false},"axis":{"title":null}}}},
{"data":{"name":"bd"},"mark":{"type":"line","color":"#9c27b0","strokeWidth":2.5,"clip":true},
"encoding":{"x":{"field":"m","type":"quantitative","scale":{"domain":[-16.35,327.6],"nice":false,"zero":false},"axis":{"title":null}},"y":{"field":"lo","type":"quantitative","scale":{"domain":[24676.16,24874.07],"nice":false,"zero":false},"axis":{"title":null}}}},
{"data":{"values":[{"txt":"VWAP Cross Alert with VWAP Deviation (Working)"}]},
"mark":{"type":"rect","fill":"#2a2e39","stroke":"#787b86","strokeWidth":1,"cornerRadius":2},
"encoding":{"x":{"datum":86.8,"type":"quantitative","scale":{"domain":[-16.35,327.6],"nice":false,"zero":false},"axis":{"title":null}},"x2":{"datum":149.5},"y":{"datum":24838.04,"type":"quantitative","scale":{"domain":[24676.16,24874.07],"nice":false,"zero":false},"axis":{"title":null}},"y2":{"datum":24829.4}}},
{"data":{"values":[{"txt":"VWAP Cross Alert with VWAP Deviation (Working)"}]},
"mark":{"type":"point","shape":"M -1 -0.6 L 0 0.6 L 1 -0.6","size":100,"filled":true,"fill":"#2a2e39","stroke":"#787b86","strokeWidth":1,"opacity":1},
"encoding":{"x":{"datum":117.3,"type":"quantitative","scale":{"domain":[-16.35,327.6],"nice":false,"zero":false},"axis":{"title":null}},"y":{"datum":24828.2,"type":"quantitative","scale":{"domain":[24676.16,24874.07],"nice":false,"zero":false},"axis":{"title":null}}}},
{"data":{"values":[{"txt":"VWAP Cross Alert with VWAP Deviation (Working)"}]},
"mark":{"type":"text","fontSize":12,"color":"#d1d4dc","align":"center","baseline":"middle"},
"encoding":{"x":{"datum":118.2,"type":"quantitative","scale":{"domain":[-16.35,327.6],"nice":false,"zero":false},"axis":{"title":null}},"y":{"datum":24833.7,"type":"quantitative","scale":{"domain":[24676.16,24874.07],"nice":false,"zero":false},"axis":{"title":null}},"text":{"field":"txt"}}},
{"data":{"name":"hd"},
"mark":{"type":"text","fontSize":13,"align":"left","baseline":"middle"},
"encoding":{"x":{"field":"m","type":"quantitative","scale":{"domain":[-16.35,327.6],"nice":false,"zero":false},"axis":{"title":null}},"y":{"datum":24868.3,"type":"quantitative","scale":{"domain":[24676.16,24874.07],"nice":false,"zero":false},"axis":{"title":null}},"text":{"field":"txt"},
"color":{"field":"k","type":"nominal","scale":{"domain":["lab","val"],"range":["#d1d4dc","#f23645"]},"legend":null}}},
{"data":{"name":"bg"},
"mark":{"type":"bar","orient":"horizontal","size":17},
"encoding":{"x":{"datum":329.45,"type":"quantitative","scale":{"domain":[-16.35,327.6],"nice":false,"zero":false},"axis":{"title":null}},"x2":{"datum":340.8},"y":{"field":"v","type":"quantitative","scale":{"domain":[24676.16,24874.07],"nice":false,"zero":false},"axis":{"title":null}},
"color":{"field":"s","type":"nominal","scale":{"domain":["up","vw","lo","last"],"range":["#9c27b0","#ff9800","#9c27b0","#f23645"]},"legend":null}}},
{"data":{"name":"bg"},
"mark":{"type":"point","shape":"M 0.1 -1 L -0.82 0 L 0.1 1 Z","size":289,"filled":true,"opacity":1,"strokeWidth":0},
"encoding":{"x":{"datum":329.45,"type":"quantitative","scale":{"domain":[-16.35,327.6],"nice":false,"zero":false},"axis":{"title":null}},"y":{"field":"v","type":"quantitative","scale":{"domain":[24676.16,24874.07],"nice":false,"zero":false},"axis":{"title":null}},
"color":{"field":"s","type":"nominal","scale":{"domain":["up","vw","lo","last"],"range":["#9c27b0","#ff9800","#9c27b0","#f23645"]},"legend":null}}},
{"data":{"name":"bg"},
"mark":{"type":"text","fontSize":12,"color":"#ffffff","align":"center","baseline":"middle"},
"encoding":{"x":{"datum":335.1,"type":"quantitative","scale":{"domain":[-16.35,327.6],"nice":false,"zero":false},"axis":{"title":null}},"y":{"field":"v","type":"quantitative","scale":{"domain":[24676.16,24874.07],"nice":false,"zero":false},"axis":{"title":null}},"text":{"field":"v","type":"quantitative","format":".1f"}}}
]
}
